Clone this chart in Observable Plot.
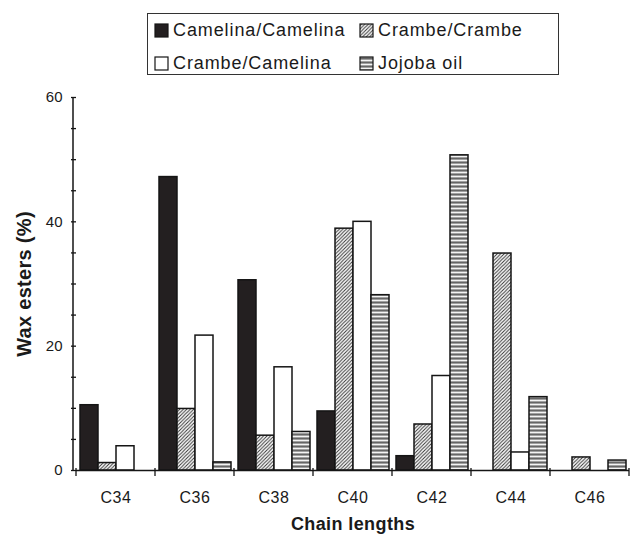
<!DOCTYPE html>
<html><head><meta charset="utf-8">
<script src="https://cdn.jsdelivr.net/npm/d3@7"></script>
<script src="https://cdn.jsdelivr.net/npm/@observablehq/plot@0.6"></script>
<style>
body{margin:0;background:#fff;font-family:"Liberation Sans",Arial,sans-serif;}
#wrap{position:relative;width:632px;height:538px;overflow:hidden;}
#legend{position:absolute;left:147px;top:13px;width:410px;height:60px;border:1.5px solid #333;box-sizing:content-box;}
.li{position:absolute;display:flex;align-items:center;font-size:18px;letter-spacing:0.9px;color:#1a1a1a;white-space:nowrap;}
.li svg{margin-right:4px;}
#chart{position:absolute;left:0;top:80px;}
#chart svg text{fill:#1a1a1a;}
g[aria-label="y-axis label"] text{font-weight:bold;font-size:20px;letter-spacing:0.3px;}
g[aria-label="fx-axis label"] text{font-weight:bold;font-size:18px;letter-spacing:0.4px;}
g[aria-label="fx-axis tick label"] text{letter-spacing:0.6px;}
</style>
</head><body>
<svg width="0" height="0" style="position:absolute">
  <defs>
    <pattern id="hatch" patternUnits="userSpaceOnUse" width="3.5" height="3.5">
      <rect width="3.5" height="3.5" fill="#fff"/>
      <path d="M-1,1 l2,-2 M0,3.5 l3.5,-3.5 M2.5,4.5 l2,-2" stroke="#333" stroke-width="1"/>
    </pattern>
    <pattern id="stripes" patternUnits="userSpaceOnUse" width="6" height="4">
      <rect width="6" height="4" fill="#a0a0a0"/>
      <rect y="0" width="6" height="1" fill="#f4f4f4"/>
      <rect y="2" width="6" height="1" fill="#666"/>
    </pattern>
  </defs>
</svg>
<div id="wrap">
  <div id="legend"></div>
  <div id="chart"></div>
</div>
<script>
const chains = ["C34","C36","C38","C40","C42","C44","C46"];
const series = ["Camelina/Camelina","Crambe/Crambe","Crambe/Camelina","Jojoba oil"];
const camelinaCamelina = [10.5,47.2,30.6,9.5,2.3,0,0];
const crambeCrambe = [1.2,9.9,5.6,38.9,7.4,34.9,2.1];
const crambeCamelina = [3.9,21.7,16.6,40.0,15.2,2.9,0];
const jojobaOil = [0,1.3,6.2,28.2,50.7,11.8,1.6];
const yTicks = [0,5,10,15,20,25,30,35,40,45,50,55,60];
const fills = ["#231f20","url(#hatch)","#ffffff","url(#stripes)"];

const valuesBySeries = [camelinaCamelina, crambeCrambe, crambeCamelina, jojobaOil];
const data = [];
chains.forEach((c, i) => series.forEach((s, j) => data.push({chain: c, series: s, value: valuesBySeries[j][i]})));

const plot = Plot.plot({
  width: 632, height: 458,
  marginLeft: 73, marginRight: 0, marginTop: 17, marginBottom: 68,
  style: {fontFamily: '"Liberation Sans", Arial, sans-serif', background: "#fff"},
  fx: {domain: chains, padding: 0},
  x: {domain: series, paddingInner: 0, paddingOuter: 0.16, axis: null},
  y: {domain: [0, 60]},
  color: {domain: series, range: fills},
  marks: [
    Plot.axisY({ticks: yTicks, tickFormat: d => d % 20 === 0 ? String(d) : "", tickSize: 5, tickPadding: 9, fontSize: 15,
      stroke: "#151515", strokeWidth: 1.3, strokeOpacity: 1,
      label: "Wax esters (%)", labelAnchor: "center", labelOffset: 60, labelArrow: "none"}),
    Plot.axisFx({anchor: "bottom", tickSize: 0, tickPadding: 21, fontSize: 16,
      label: "Chain lengths", labelAnchor: "center", labelOffset: 59, labelArrow: "none"}),
    Plot.barY(data, {fx: "chain", x: "series", y: "value", fill: "series", stroke: "#151515", strokeWidth: 1.5}),
    Plot.ruleY([0], {stroke: "#151515", strokeWidth: 1.5})
  ]
});
document.getElementById("chart").appendChild(plot);

// axis line and group boundary ticks from the library's scales
const fx = plot.scale("fx"), y = plot.scale("y");
const svg = d3.select(plot);
const y0 = y.apply(0), y60 = y.apply(60);
svg.append("line").attr("x1", 73).attr("x2", 73).attr("y1", y0).attr("y2", y60)
  .attr("stroke", "#151515").attr("stroke-width", 1.5);
const bounds = chains.map(c => fx.apply(c)).concat([fx.apply(chains[chains.length-1]) + fx.bandwidth]);
svg.append("g").selectAll("line").data(bounds).join("line")
  .attr("x1", d => d).attr("x2", d => d).attr("y1", y0 - 2).attr("y2", y0 + 6)
  .attr("stroke", "#151515").attr("stroke-width", 1.3);

// legend
const legend = d3.select("#legend");
const pos = [[6, 16], [211, 16], [6, 49], [211, 49]];
[0, 1, 2, 3].forEach((k, i) => {
  const item = legend.append("div").attr("class", "li")
    .style("left", pos[i][0] + "px").style("top", (pos[i][1] - 11) + "px").style("height", "22px");
  const sw = item.append("svg").attr("width", 15).attr("height", 15);
  sw.append("rect").attr("x", 1).attr("y", 1).attr("width", 13).attr("height", 13)
    .attr("fill", fills[k]).attr("stroke", "#151515").attr("stroke-width", 1.2);
  item.append("span").text(series[k]);
});
</script>
</body></html>
